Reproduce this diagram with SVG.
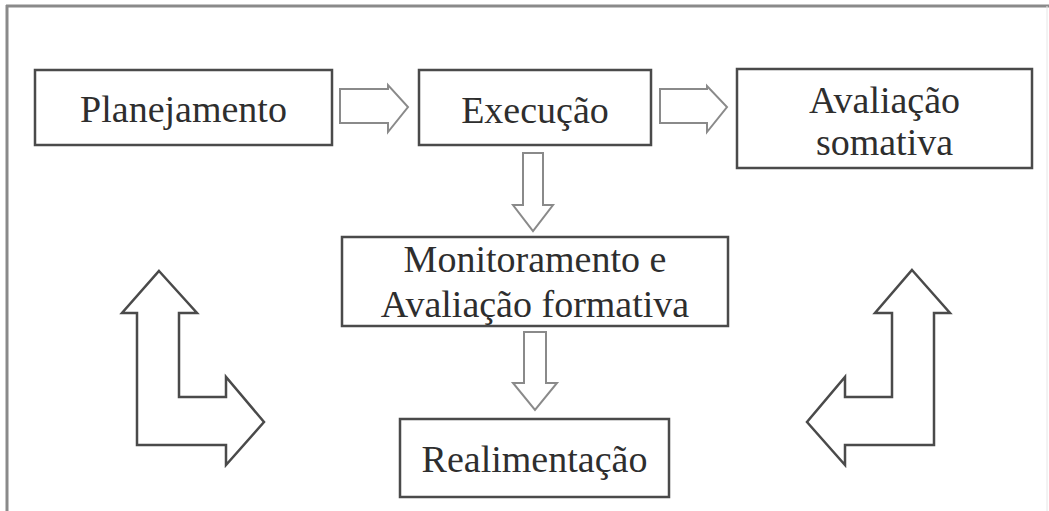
<svg xmlns="http://www.w3.org/2000/svg" width="1049" height="511" viewBox="0 0 1049 511">
<style>
.box{fill:#fff;stroke:#4a4a4a;stroke-width:2.5}
.t{font-family:"Liberation Serif","Times New Roman",serif;font-size:38px;fill:#2e2e2e;text-anchor:middle}
.arr{fill:#fff;stroke:#8a8a8a;stroke-width:2;stroke-linejoin:miter}
.bent{fill:#fff;stroke:#4a4a4a;stroke-width:2.5;stroke-linejoin:miter}
</style>
<rect width="1049" height="511" fill="#fff"/>
<g id="frame">
<line x1="6" y1="6" x2="1049" y2="6" stroke="#8a8a8a" stroke-width="3"/>
<line x1="7" y1="5" x2="7" y2="511" stroke="#8a8a8a" stroke-width="3"/>
<line x1="1047" y1="6" x2="1047" y2="511" stroke="#e6e6e6" stroke-width="1"/>
</g>
<g id="connectors">
<polygon class="arr" points="340,89 388,89 388,85 408,107 388,132 388,123 340,123"/>
<polygon class="arr" points="660,89 707,89 707,86 727,107 707,132 707,123 660,123"/>
<polygon class="arr" points="523,153 543,153 543,205 553,205 533,231 513,205 523,205"/>
<polygon class="arr" points="524,332 546,332 546,383 557,383 535,410 513,383 524,383"/>
<polygon class="bent" points="159,271 197,313 179,313 179,397 226,397 226,377 264,422 226,465 226,445 137,445 137,313 122,313"/>
<polygon class="bent" points="912,270 950,313 934,313 934,445 845,445 845,465 807,422 845,377 845,397 892,397 892,313 875,313"/>
</g>
<g id="planejamento">
<rect class="box" x="35" y="70" width="297" height="75"/>
<text class="t" x="183.5" y="122">Planejamento</text>
</g>
<g id="execucao">
<rect class="box" x="419" y="70" width="232" height="75"/>
<text class="t" x="535" y="123">Execução</text>
</g>
<g id="avaliacao-somativa">
<rect class="box" x="737" y="69" width="295" height="99"/>
<text class="t" x="884.5" y="113">Avaliação</text>
<text class="t" x="884.5" y="155">somativa</text>
</g>
<g id="monitoramento">
<rect class="box" x="342" y="237" width="386" height="89"/>
<text class="t" x="535" y="272">Monitoramento e</text>
<text class="t" x="535" y="317">Avaliação formativa</text>
</g>
<g id="realimentacao">
<rect class="box" x="400" y="419" width="269" height="78"/>
<text class="t" x="534.5" y="472">Realimentação</text>
</g>
</svg>
